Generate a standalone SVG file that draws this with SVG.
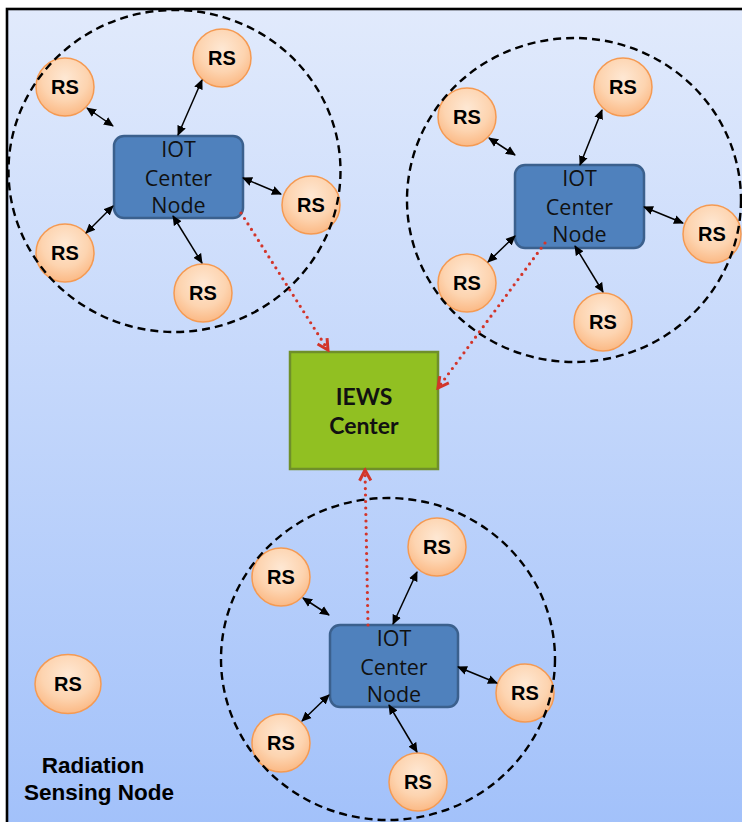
<svg xmlns="http://www.w3.org/2000/svg" width="742" height="822" viewBox="0 0 742 822">
  <defs>
    <linearGradient id="bg" x1="0" y1="0" x2="0" y2="1">
      <stop offset="0" stop-color="#e1eafc"/>
      <stop offset="1" stop-color="#a2c1fa"/>
    </linearGradient>
    <radialGradient id="rsFill" cx="0.5" cy="0.35" r="0.65">
      <stop offset="0" stop-color="#fee8d4"/>
      <stop offset="0.6" stop-color="#fdd4b0"/>
      <stop offset="1" stop-color="#fbb985"/>
    </radialGradient>
    <marker id="blk" viewBox="0 0 10 10" refX="9" refY="5" markerWidth="10" markerHeight="10" markerUnits="userSpaceOnUse" orient="auto-start-reverse">
      <path d="M0,0.5 L10,5 L0,9.5 Z" fill="#000"/>
    </marker>
    <marker id="red" viewBox="0 0 12 12" refX="10" refY="6" markerWidth="15" markerHeight="15" markerUnits="userSpaceOnUse" orient="auto">
      <path d="M1.5,1.5 L10,6 L1.5,10.5" fill="none" stroke="#d2352a" stroke-width="2.4" stroke-linejoin="miter"/>
    </marker>
  </defs>
  <style>
    .zone { fill: none; stroke: #000; stroke-width: 2.4; stroke-dasharray: 8 5; }
    .rs { fill: url(#rsFill); stroke: #f59a52; stroke-width: 1.5; }
    .rs-t { font-family: "Liberation Sans", Arial, sans-serif; font-weight: bold; font-size: 20px; fill: #000; text-anchor: middle; }
    .iot { fill: #4f81bd; stroke: #3b608d; stroke-width: 2.5; }
    .iot-t { font-family: "Open Sans", "Liberation Sans", sans-serif; font-size: 21.5px; fill: #111; text-anchor: middle; }
    .link { stroke: #000; stroke-width: 1.5; fill: none; marker-start: url(#blk); marker-end: url(#blk); }
    .up { stroke: #d2352a; stroke-width: 3.2; stroke-linecap: round; stroke-dasharray: 0 6.5; fill: none; marker-end: url(#red); }
    .iews { fill: #91c022; stroke: #6f8f2a; stroke-width: 2.5; }
    .iews-t { font-family: Lato, "Open Sans", sans-serif; font-weight: bold; font-size: 23px; fill: #111; text-anchor: middle; }
    .legend { font-family: "Liberation Sans", Arial, sans-serif; font-weight: bold; font-size: 22.5px; fill: #000; text-anchor: middle; }
  </style>

  <!-- panel -->
  <rect x="0" y="0" width="742" height="822" fill="#fff"/>
  <rect x="7" y="9" width="740" height="820" fill="url(#bg)" stroke="#000" stroke-width="2.6"/>

  <!-- cluster A (top left) -->
  <g id="clusterA">
    <g id="a-rs1"><circle class="rs" cx="65" cy="87" r="29"/><text class="rs-t" x="65" y="94">RS</text></g>
    <g id="a-rs2"><circle class="rs" cx="222" cy="58" r="29"/><text class="rs-t" x="222" y="65">RS</text></g>
    <g id="a-rs3"><circle class="rs" cx="311" cy="205" r="29"/><text class="rs-t" x="311" y="212">RS</text></g>
    <g id="a-rs4"><circle class="rs" cx="65" cy="253" r="29"/><text class="rs-t" x="65" y="260">RS</text></g>
    <g id="a-rs5"><circle class="rs" cx="203" cy="293" r="29"/><text class="rs-t" x="203" y="300">RS</text></g>
    <ellipse id="a-zone" class="zone" cx="174.5" cy="171" rx="166" ry="161"/>
    <g id="a-iot">
      <rect class="iot" x="114" y="136" width="129" height="82" rx="10"/>
      <text class="iot-t" x="178.5" y="157">IOT</text>
      <text class="iot-t" x="178.5" y="186">Center</text>
      <text class="iot-t" x="178.5" y="213">Node</text>
    </g>
  </g>

  <!-- cluster B (top right) -->
  <g id="clusterB">
    <g id="b-rs1"><circle class="rs" cx="467" cy="117" r="29"/><text class="rs-t" x="467" y="124">RS</text></g>
    <g id="b-rs2"><circle class="rs" cx="623" cy="87" r="29"/><text class="rs-t" x="623" y="94">RS</text></g>
    <g id="b-rs3"><circle class="rs" cx="712" cy="234" r="29"/><text class="rs-t" x="712" y="241">RS</text></g>
    <g id="b-rs4"><circle class="rs" cx="467" cy="283" r="29"/><text class="rs-t" x="467" y="290">RS</text></g>
    <g id="b-rs5"><circle class="rs" cx="603" cy="322" r="29"/><text class="rs-t" x="603" y="329">RS</text></g>
    <ellipse id="b-zone" class="zone" cx="574" cy="200" rx="167" ry="162"/>
    <g id="b-iot">
      <rect class="iot" x="515" y="165" width="129" height="83" rx="10"/>
      <text class="iot-t" x="579.5" y="186">IOT</text>
      <text class="iot-t" x="579.5" y="215">Center</text>
      <text class="iot-t" x="579.5" y="242">Node</text>
    </g>
  </g>

  <!-- cluster C (bottom) -->
  <g id="clusterC">
    <g id="c-rs1"><circle class="rs" cx="281" cy="577" r="29"/><text class="rs-t" x="281" y="584">RS</text></g>
    <g id="c-rs2"><circle class="rs" cx="437" cy="547" r="29"/><text class="rs-t" x="437" y="554">RS</text></g>
    <g id="c-rs3"><circle class="rs" cx="525" cy="693" r="29"/><text class="rs-t" x="525" y="700">RS</text></g>
    <g id="c-rs4"><circle class="rs" cx="281" cy="743" r="29"/><text class="rs-t" x="281" y="750">RS</text></g>
    <g id="c-rs5"><circle class="rs" cx="418" cy="782" r="29"/><text class="rs-t" x="418" y="789">RS</text></g>
    <ellipse id="c-zone" class="zone" cx="388" cy="659" rx="167" ry="161"/>
    <g id="c-iot">
      <rect class="iot" x="330" y="625" width="128" height="82" rx="10"/>
      <text class="iot-t" x="394" y="646">IOT</text>
      <text class="iot-t" x="394" y="675">Center</text>
      <text class="iot-t" x="394" y="702">Node</text>
    </g>
  </g>

  <!-- early warning center -->
  <g id="iews">
    <rect class="iews" x="290" y="352" width="148" height="117"/>
    <text class="iews-t" x="364" y="405">IEWS</text>
    <text class="iews-t" x="364" y="434">Center</text>
  </g>

  <!-- lone sensor + legend -->
  <g id="legend">
    <ellipse class="rs" cx="68" cy="684" rx="33" ry="29.5"/>
    <text class="rs-t" x="68" y="691">RS</text>
    <text class="legend" x="93" y="773">Radiation</text>
    <text class="legend" x="99" y="800">Sensing Node</text>
  </g>

  <!-- connectors -->
  <g id="connectors">
    <line class="link" x1="87" y1="108" x2="113" y2="126"/>
    <line class="link" x1="178" y1="135" x2="202" y2="80"/>
    <line class="link" x1="243" y1="178" x2="281" y2="194"/>
    <line class="link" x1="113" y1="206" x2="86" y2="233"/>
    <line class="link" x1="173" y1="216" x2="202" y2="263"/>

    <line class="link" x1="489" y1="138" x2="515" y2="155"/>
    <line class="link" x1="580" y1="165" x2="602" y2="110"/>
    <line class="link" x1="644" y1="207" x2="683" y2="223"/>
    <line class="link" x1="515" y1="236" x2="488" y2="262"/>
    <line class="link" x1="575" y1="246" x2="603" y2="292"/>

    <line class="link" x1="303" y1="598" x2="329" y2="615"/>
    <line class="link" x1="393" y1="624" x2="417" y2="572"/>
    <line class="link" x1="458" y1="667" x2="497" y2="683"/>
    <line class="link" x1="329" y1="695" x2="302" y2="721"/>
    <line class="link" x1="389" y1="705" x2="417" y2="752"/>

    <line class="up" x1="241" y1="213" x2="328" y2="350"/>
    <line class="up" x1="545" y1="243" x2="438" y2="388"/>
    <line class="up" x1="368" y1="625" x2="365" y2="470"/>
  </g>
</svg>
